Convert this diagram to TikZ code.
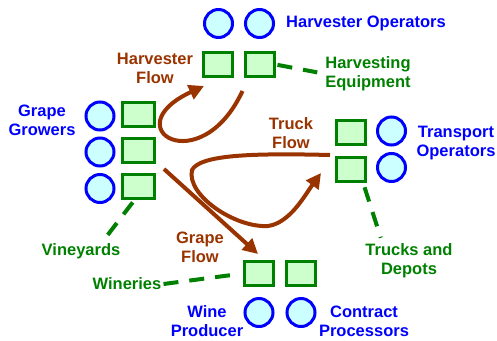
\documentclass[tikz,border=0pt]{standalone}
\usepackage{fontspec}
\setmainfont{Liberation Sans}
\usetikzlibrary{arrows.meta}

\definecolor{roleblue}{HTML}{0000FF}
\definecolor{rolefill}{HTML}{CCFFFF}
\definecolor{assetgreen}{HTML}{008000}
\definecolor{assetfill}{HTML}{CCFFCC}
\definecolor{flowbrown}{HTML}{993300}

\tikzset{
  role/.style={circle, draw=roleblue, fill=rolefill, line width=3pt, minimum size=28pt, inner sep=0pt},
  asset/.style={rectangle, draw=assetgreen, fill=assetfill, line width=3pt, minimum width=29pt, minimum height=24pt, inner sep=0pt},
  flow/.style={draw=flowbrown, line width=4pt, -{Triangle[length=15pt,width=15pt]}},
  link/.style={draw=assetgreen, line width=4pt, dash pattern=on 15pt off 11pt},
  lbl/.style={font=\bfseries\fontsize{16.5}{19}\selectfont, align=center, inner sep=2pt},
  rolelbl/.style={lbl, text=roleblue},
  assetlbl/.style={lbl, text=assetgreen},
  flowlbl/.style={lbl, text=flowbrown}
}

\begin{document}
\begin{tikzpicture}[x=1pt,y=-1pt]
\useasboundingbox (0,0) rectangle (497,340);

% harvesters
\node[role] (hoa) at (218.5,23.5) {};
\node[role] (hob) at (259.5,23.5) {};
\node[asset] (hea) at (218,64.5) {};
\node[asset] (heb) at (259.5,64.5) {};

% growers and vineyards
\foreach \n/\y in {a/116,b/152,c/188.5}{
  \node[role] (gg\n) at (100,\y) {};
}
\foreach \n/\y in {a/114.5,b/150,c/186.5}{
  \node[asset, minimum width=32pt] (vy\n) at (138.5,\y) {};
}

% transport
\node[asset] (tda) at (351,132.5) {};
\node[asset] (tdb) at (351,169) {};
\node[role] (toa) at (391.5,131) {};
\node[role] (tob) at (391.5,167.5) {};

% wineries
\node[asset] (wna) at (259,273.5) {};
\node[asset] (wnb) at (301,273.5) {};
\node[role] (wpa) at (259,312.5) {};
\node[role] (cpa) at (301,312.5) {};

% labels
\node[rolelbl, anchor=west] (holab) at (284,23) {Harvester Operators};
\node[rolelbl] (gglab) at (42,120) {Grape\\Growers};
\node[rolelbl] (tolab) at (456,143) {Transport\\Operators};
\node[rolelbl, inner sep=0pt] (wplab) at (207,321.5) {Wine\\Producer};
\node[rolelbl, inner sep=0pt] (cplab) at (364,321.5) {Contract\\Processors};
\node[assetlbl] (helab) at (368,73.5) {Harvesting\\Equipment};
\node[assetlbl] (vylab) at (81,251) {Vineyards};
\node[assetlbl] (wnlab) at (127,284) {Wineries};
\node[assetlbl] (tdlab) at (409,261) {Trucks and\\Depots};
\node[flowlbl] (hflab) at (155,68.5) {Harvester\\Flow};
\node[flowlbl] (tflab) at (291,133) {Truck\\Flow};
\node[flowlbl] (gflab) at (200,247) {Grape\\Flow};

% dashed links
\draw[link, shorten <=2pt, shorten >=6pt] (heb.east) -- (helab.west);
\draw[link, shorten <=3pt, shorten >=5pt] ([xshift=-4pt]vyc.south) -- ([xshift=22pt]vylab.north);
\draw[link, shorten >=3pt] (wnlab.east) -- (wna.west);
\draw[link, shorten <=5pt, shorten >=4pt] ([xshift=12pt]tdb.south) -- ([xshift=-27pt]tdlab.north);

% flows
\draw[flow] ([shift={(-17,13)}]heb.south) .. controls (200,182) and (113,128) .. ([shift={(-14,8)}]hea.south);
\draw[flow] ([shift={(-5,9)}]tda.south west) .. controls (250,153) and (200,155) .. (192,170)
  .. controls (186,195) and (235,228) .. (268,226)
  .. controls (290,223) and (305,195) .. ([shift={(-14,4)}]tdb.west);
\draw[flow] ([shift={(8,-4)}]vyc.north east) -- ([shift={(-1,-6)}]wna.north);
\end{tikzpicture}
\end{document}
